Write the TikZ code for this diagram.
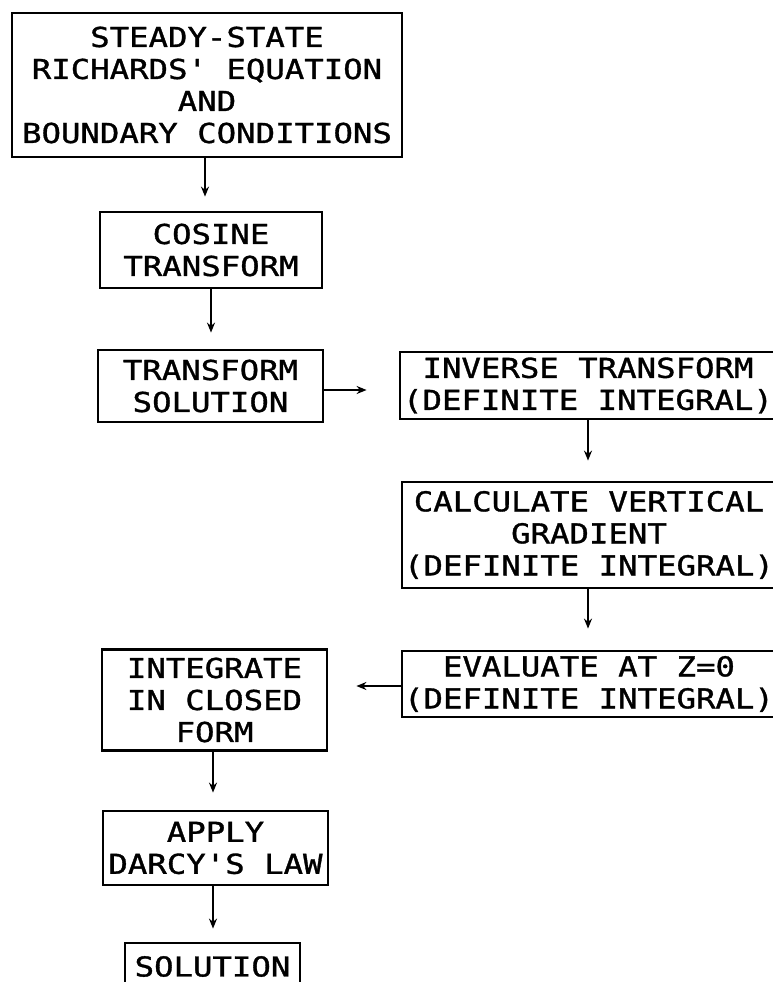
\documentclass[tikz,border=0pt]{standalone}
\usepackage{fontspec}
\newfontfamily\plotfont{DejaVu Sans Mono}[FakeStretch=1.18,FakeBold=1.2]
\usetikzlibrary{arrows.meta}
\begin{document}
\begin{tikzpicture}[x=1pt,y=-1pt,
  box/.style={draw, line width=2.8pt, inner sep=0pt, align=center,
    font=\plotfont\fontsize{27.4}{32}\selectfont},
  arr/.style={line width=2.6pt, -{Stealth[length=10pt,width=8pt]}}]
\useasboundingbox (0,0) rectangle (773,982);
\fill[white] (0,0) rectangle (773,982);
% boxes (centre, size from the reference corners)
\node[box, minimum width=390pt, minimum height=144pt] (b1) at (207,85)
  {STEADY-STATE\\RICHARDS' EQUATION\\AND\\BOUNDARY CONDITIONS};
\node[box, minimum width=222pt, minimum height=76pt] (b2) at (211,250)
  {COSINE\\TRANSFORM};
\node[box, minimum width=225pt, minimum height=72pt] (b3) at (210.5,386)
  {TRANSFORM\\SOLUTION};
\node[box, minimum width=376pt, minimum height=67pt] (b4) at (588,385.5)
  {INVERSE TRANSFORM\\(DEFINITE INTEGRAL)};
\node[box, minimum width=374pt, minimum height=106pt] (b5) at (589,535)
  {CALCULATE VERTICAL\\GRADIENT\\(DEFINITE INTEGRAL)};
\node[box, minimum width=374pt, minimum height=66pt] (b6) at (589,684)
  {EVALUATE AT Z=0\\(DEFINITE INTEGRAL)};
\node[box, minimum width=225pt, minimum height=101pt] (b7) at (214.5,700)
  {INTEGRATE\\IN CLOSED\\FORM};
\node[box, minimum width=225pt, minimum height=74pt] (b8) at (215.5,848)
  {APPLY\\DARCY'S LAW};
\node[box, minimum width=175pt, minimum height=47pt] (b9) at (212.5,966.5)
  {SOLUTION};
% connectors
\coordinate (c1) at (205,0);
\draw[arr, shorten >=14pt] (b1.south -| c1) -- (b2.north -| c1);
\draw[arr, shorten >=16pt] (b2.south) -- (b3.north -| b2.south);
\coordinate (c3) at (0,390);
\draw[arr, shorten >=32pt] (b3.east |- c3) -- (b4.west |- c3);
\draw[arr, shorten >=20pt] (b4.south) -- (b5.north -| b4.south);
\draw[arr, shorten >=21pt] (b5.south -| b4.south) -- (b6.north -| b4.south);
\coordinate (c6) at (0,686);
\draw[arr, shorten >=28pt] (b6.west |- c6) -- (b7.east |- c6);
\coordinate (c7) at (213,0);
\draw[arr, shorten >=17pt] (b7.south -| c7) -- (b8.north -| c7);
\draw[arr, shorten >=13pt] (b8.south -| c7) -- (b9.north -| c7);
\end{tikzpicture}
\end{document}
